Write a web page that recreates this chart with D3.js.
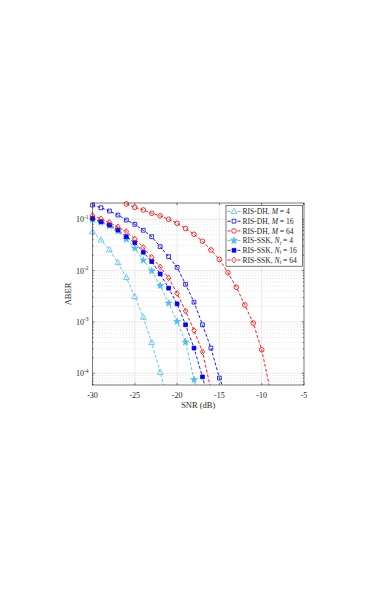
<!DOCTYPE html>
<html>
<head>
<meta charset="utf-8">
<script src="https://cdn.jsdelivr.net/npm/d3@7"></script>
<style>
  body { margin: 0; background: #fff; }
  text { font-family: "Liberation Serif", "DejaVu Serif", serif; fill: #262626; }
</style>
</head>
<body>
<div id="chart-area"></div>
<script>
// data (SNR in dB, ABER)
const snrDH4 = [-30, -29, -28, -27, -26, -25, -24, -23, -22, -21]
const berDH4 = [0.0574, 0.0396, 0.0254, 0.0142, 0.00735, 0.0031, 0.00123, 3.96e-4, 1.04e-4, 2.5e-5]

const snrDH16 = [-30, -29, -28, -27, -26, -25, -24, -23, -22, -21, -20, -19, -18, -17, -16, -15, -14]
const berDH16 = [0.19, 0.168, 0.145, 0.121, 0.0969, 0.08, 0.0611, 0.0459, 0.0293, 0.0187, 0.0116, 0.00543, 0.00243, 8.8e-4, 3.09e-4, 8.07e-5, 3e-5]

const snrDH64 = [-26, -25, -24, -23, -22, -21, -20, -19, -18, -17, -16, -15, -14, -13, -12, -11, -10, -9]
const berDH64 = [0.199, 0.171, 0.152, 0.131, 0.117, 0.1, 0.0836, 0.0662, 0.0511, 0.0373, 0.0253, 0.0165, 0.00914, 0.00475, 0.00215, 9.5e-4, 2.86e-4, 4.8e-5]

const snrSSK4 = [-30, -29, -28, -27, -26, -25, -24, -23, -22, -21, -20, -19, -18, -17]
const berSSK4 = [0.099, 0.0867, 0.0741, 0.0592, 0.0408, 0.0273, 0.0159, 0.00986, 0.0051, 0.00232, 0.00102, 4.05e-4, 7.5e-5, 1.2e-5]

const snrSSK16 = [-30, -29, -28, -27, -26, -25, -24, -23, -22, -21, -20, -19, -18, -17, -16]
const berSSK16 = [0.1045, 0.0898, 0.0774, 0.0619, 0.0458, 0.035, 0.0228, 0.015, 0.00862, 0.00455, 0.00225, 8.8e-4, 3.09e-4, 8.5e-5, 2e-5]

const snrSSK64 = [-30, -29, -28, -27, -26, -25, -24, -23, -22, -21, -20, -19, -18, -17, -16]
const berSSK64 = [0.1186, 0.102, 0.0867, 0.0709, 0.0579, 0.0414, 0.0283, 0.0181, 0.0118, 0.00721, 0.0036, 0.00164, 6.8e-4, 2.62e-4, 4.8e-5]

const xTicks = [-30, -25, -20, -15, -10, -5]
const yTicks = [1e-4, 1e-3, 1e-2, 1e-1]
const yTickLabels = ["-4", "-3", "-2", "-1"]

const series = [
  { name: "RIS-DH, ", sym: "M", sub: null, val: "4", x: snrDH4, y: berDH4, color: "#4DBEEE", marker: "triangle", fill: false },
  { name: "RIS-DH, ", sym: "M", sub: null, val: "16", x: snrDH16, y: berDH16, color: "#0000FF", marker: "square", fill: false },
  { name: "RIS-DH, ", sym: "M", sub: null, val: "64", x: snrDH64, y: berDH64, color: "#FF0000", marker: "circle", fill: false },
  { name: "RIS-SSK, ", sym: "N", sub: "t", val: "4", x: snrSSK4, y: berSSK4, color: "#4DBEEE", marker: "star", fill: true },
  { name: "RIS-SSK, ", sym: "N", sub: "t", val: "16", x: snrSSK16, y: berSSK16, color: "#0000FF", marker: "square", fill: true },
  { name: "RIS-SSK, ", sym: "N", sub: "t", val: "64", x: snrSSK64, y: berSSK64, color: "#FF0000", marker: "diamond", fill: false }
]

const W = 387, H = 599
const PLOT = { LEFT: 92.5, RIGHT: 304, TOP: 203, BOTTOM: 385 }

const svg = d3.select("#chart-area").append("svg")
  .attr("width", W)
  .attr("height", H)

const x = d3.scaleLinear().domain([-30, -5]).range([PLOT.LEFT, PLOT.RIGHT])
const y = d3.scaleLog().domain([5.9e-5, 0.208]).range([PLOT.BOTTOM, PLOT.TOP])

svg.append("defs").append("clipPath").attr("id", "clip")
  .append("rect")
  .attr("x", PLOT.LEFT).attr("y", PLOT.TOP)
  .attr("width", PLOT.RIGHT - PLOT.LEFT).attr("height", PLOT.BOTTOM - PLOT.TOP)

// grid
const minorY = []
for (let e = -5; e <= -1; e++) {
  for (let m = 2; m <= 9; m++) {
    const v = m * Math.pow(10, e)
    if (v > y.domain()[0] && v < y.domain()[1]) minorY.push(v)
  }
}
const grid = svg.append("g")
grid.selectAll(".ymin").data(minorY).enter().append("line")
  .attr("x1", PLOT.LEFT).attr("x2", PLOT.RIGHT)
  .attr("y1", d => y(d)).attr("y2", d => y(d))
  .attr("stroke", "#d6d6d6").attr("stroke-width", 0.5).attr("stroke-dasharray", "1.5,1.5")
grid.selectAll(".ymaj").data(yTicks).enter().append("line")
  .attr("x1", PLOT.LEFT).attr("x2", PLOT.RIGHT)
  .attr("y1", d => y(d)).attr("y2", d => y(d))
  .attr("stroke", "#dcdcdc").attr("stroke-width", 0.6)
grid.selectAll(".xmaj").data(xTicks.slice(1, -1)).enter().append("line")
  .attr("x1", d => x(d)).attr("x2", d => x(d))
  .attr("y1", PLOT.TOP).attr("y2", PLOT.BOTTOM)
  .attr("stroke", "#dcdcdc").attr("stroke-width", 0.6)

// marker paths
function markerPath(type) {
  if (type === "triangle") return "M0,-3.2L2.9,2L-2.9,2Z"
  if (type === "square") return "M-1.9,-1.9H1.9V1.9H-1.9Z"
  if (type === "diamond") return "M0,-2.9L2.3,0L0,2.9L-2.3,0Z"
  if (type === "star") return d3.symbol(d3.symbolStar, 14)()
  return d3.symbol(d3.symbolCircle, 17)()
}

const line = d3.line()
  .x(d => x(d[0]))
  .y(d => y(d[1]))

const plot = svg.append("g")
series.forEach(s => {
  const pts = s.x.map((v, i) => [v, s.y[i]])
  plot.append("path")
    .attr("clip-path", "url(#clip)")
    .attr("d", line(pts))
    .attr("fill", "none")
    .attr("stroke", s.color)
    .attr("stroke-width", 0.9)
    .attr("stroke-dasharray", "3,2")
  plot.selectAll(null)
    .data(pts.filter(d => d[1] >= y.domain()[0] && d[1] <= y.domain()[1]))
    .enter().append("path")
    .attr("transform", d => `translate(${x(d[0])},${y(d[1])})`)
    .attr("d", markerPath(s.marker))
    .attr("fill", s.fill ? s.color : "none")
    .attr("stroke", s.color)
    .attr("stroke-width", 0.8)
})

// axes box and ticks
const axis = svg.append("g").attr("stroke", "#262626").attr("stroke-width", 0.6)
axis.append("rect")
  .attr("x", PLOT.LEFT).attr("y", PLOT.TOP)
  .attr("width", PLOT.RIGHT - PLOT.LEFT).attr("height", PLOT.BOTTOM - PLOT.TOP)
  .attr("fill", "none")
xTicks.forEach(t => {
  axis.append("line").attr("x1", x(t)).attr("x2", x(t)).attr("y1", PLOT.BOTTOM).attr("y2", PLOT.BOTTOM - 2.2)
  axis.append("line").attr("x1", x(t)).attr("x2", x(t)).attr("y1", PLOT.TOP).attr("y2", PLOT.TOP + 2.2)
})
yTicks.concat(minorY).forEach((t, i) => {
  const len = i < yTicks.length ? 2.2 : 1.2
  axis.append("line").attr("x1", PLOT.LEFT).attr("x2", PLOT.LEFT + len).attr("y1", y(t)).attr("y2", y(t))
  axis.append("line").attr("x1", PLOT.RIGHT).attr("x2", PLOT.RIGHT - len).attr("y1", y(t)).attr("y2", y(t))
})

// tick labels
svg.selectAll(".xl").data(xTicks).enter().append("text")
  .attr("x", d => x(d))
  .attr("y", PLOT.BOTTOM + 12.5)
  .attr("text-anchor", "middle")
  .attr("font-size", "8px")
  .text(d => d)

yTicks.forEach((t, i) => {
  const txt = svg.append("text")
    .attr("x", PLOT.LEFT - 4)
    .attr("y", y(t) + 3)
    .attr("text-anchor", "end")
    .attr("font-size", "8px")
  txt.append("tspan").text("10")
  txt.append("tspan").attr("dy", -3.5).attr("font-size", "5.5px").text(yTickLabels[i])
})

// axis labels
svg.append("text")
  .attr("x", (PLOT.LEFT + PLOT.RIGHT) / 2)
  .attr("y", PLOT.BOTTOM + 23)
  .attr("text-anchor", "middle")
  .attr("font-size", "8.5px")
  .text("SNR (dB)")

svg.append("text")
  .attr("transform", `translate(${PLOT.LEFT - 22},${(PLOT.TOP + PLOT.BOTTOM) / 2}) rotate(-90)`)
  .attr("text-anchor", "middle")
  .attr("font-size", "8.5px")
  .text("ABER")

// legend
const LEG = { LEFT: 226, TOP: 205.5, WIDTH: 76.5, ROW: 9.7 }
const legend = svg.append("g")
legend.append("rect")
  .attr("x", LEG.LEFT).attr("y", LEG.TOP)
  .attr("width", LEG.WIDTH).attr("height", LEG.ROW * series.length + 2.5)
  .attr("fill", "#fff").attr("stroke", "#262626").attr("stroke-width", 0.6)

series.forEach((s, i) => {
  const cy = LEG.TOP + 6 + i * LEG.ROW
  legend.append("line")
    .attr("x1", LEG.LEFT + 1.5).attr("x2", LEG.LEFT + 14.5)
    .attr("y1", cy).attr("y2", cy)
    .attr("stroke", s.color).attr("stroke-width", 0.9).attr("stroke-dasharray", "3,2")
  legend.append("path")
    .attr("transform", `translate(${LEG.LEFT + 8},${cy})`)
    .attr("d", markerPath(s.marker))
    .attr("fill", s.fill ? s.color : "#fff")
    .attr("stroke", s.color).attr("stroke-width", 0.8)
  const t = legend.append("text")
    .attr("x", LEG.LEFT + 16.5)
    .attr("y", cy + 2.6)
    .attr("font-size", "7.6px")
  t.append("tspan").text(s.name)
  t.append("tspan").attr("font-style", "italic").text(s.sym)
  if (s.sub) t.append("tspan").attr("font-style", "italic").attr("font-size", "5.3px").attr("dy", 1.5).text(s.sub)
  t.append("tspan").attr("dy", s.sub ? -1.5 : 0).text(" = " + s.val)
})
</script>
</body>
</html>
